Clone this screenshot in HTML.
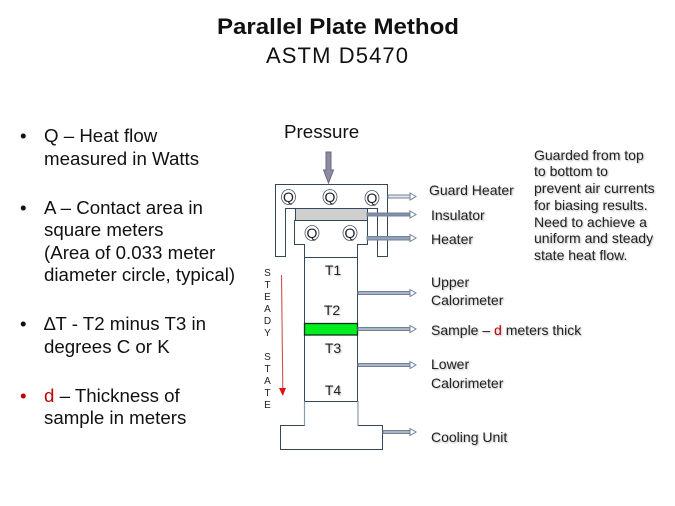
<!DOCTYPE html>
<html><head><meta charset="utf-8"><style>
html,body{margin:0;padding:0;background:#fff}
svg{display:block}
text{font-family:"Liberation Sans",sans-serif;fill:#111}
.b{font-size:18.7px}
.l{font-size:14px;fill:#222;filter:drop-shadow(1px 1px .8px rgba(0,0,0,.28))}
.n{font-size:14px;fill:#222;filter:drop-shadow(1px 1px .8px rgba(0,0,0,.28))}
.q{font-size:14px;fill:#222}
.t{font-size:14px;fill:#222;filter:drop-shadow(1px 1px .8px rgba(0,0,0,.25))}
.s{font-size:10px;fill:#222}
</style></head><body>
<svg width="675" height="506" viewBox="0 0 675 506" xmlns="http://www.w3.org/2000/svg">
<rect width="675" height="506" fill="#fff"/>
<text x="338" y="34" text-anchor="middle" font-size="22" font-weight="bold" textLength="242" lengthAdjust="spacingAndGlyphs">Parallel Plate Method</text>
<text x="337" y="63" text-anchor="middle" font-size="22" textLength="142" lengthAdjust="spacing">ASTM D5470</text>

<text class="b" x="20" y="142">•</text>
<text class="b" x="44" y="142">Q – Heat flow</text>
<text class="b" x="44" y="165">measured in Watts</text>
<text class="b" x="20" y="214">•</text>
<text class="b" x="44" y="214">A – Contact area in</text>
<text class="b" x="44" y="236">square meters</text>
<text class="b" x="44" y="259">(Area of 0.033 meter</text>
<text class="b" x="44" y="281">diameter circle, typical)</text>
<text class="b" x="20" y="330">•</text>
<text class="b" x="44" y="330">∆T - T2 minus T3 in</text>
<text class="b" x="44" y="353">degrees C or K</text>
<text class="b" x="20" y="402" style="fill:#c00000">•</text>
<text class="b" x="44" y="402"><tspan style="fill:#c00000">d</tspan> – Thickness of</text>
<text class="b" x="44" y="424">sample in meters</text>

<text x="284" y="138" font-size="18.800">Pressure</text>
<path d="M326 152h5v18h2.500l-5 13-5-13h2.500z" fill="#8d8b9f" stroke="#6a6880" stroke-width="1"/>

<g fill="#fff" stroke="#33475b" stroke-width="1">
<path d="M275.500 184.500H387.500V256.500H377.500V208.500H285.500V256.500H275.500Z"/>
<rect x="295.500" y="208.500" width="72" height="12" fill="#cfcfcf"/>
<path d="M294.500 220.500H367.500V244.500H357.500V257.500H304.500V244.500H294.500Z"/>
<path d="M304.500 257.500H357.500V401.500H304.500Z"/>
<path d="M304.500 401.500H358V425.500H382.500V449.500H280.500V425.500H304.500Z"/>
</g>
<path d="M304.500 401.500V425.500M358 401.500V425.500" stroke="#8a9bb0" stroke-width="1.200" fill="none"/>
<rect x="304.500" y="323.500" width="53" height="11.500" fill="#00ee20" stroke="#10301a" stroke-width="1.300"/>

<g fill="#fff" stroke="#44556a" stroke-width=".8">
<ellipse cx="288.500" cy="197" rx="7" ry="7.500"/>
<ellipse cx="330" cy="197" rx="7" ry="7.500"/>
<ellipse cx="372" cy="198" rx="7" ry="7.500"/>
<ellipse cx="312" cy="233" rx="7" ry="7.500"/>
<ellipse cx="350" cy="233" rx="7" ry="7.500"/>
</g>
<text class="q" x="288.500" y="202" text-anchor="middle">Q</text>
<text class="q" x="330" y="202" text-anchor="middle">Q</text>
<text class="q" x="372" y="203" text-anchor="middle">Q</text>
<text class="q" x="312" y="238" text-anchor="middle">Q</text>
<text class="q" x="350" y="238" text-anchor="middle">Q</text>

<g stroke="#6f8099" stroke-width="1">
<path d="M388 195h22v3h-22z" fill="#e4e8ee"/>
<path d="M367 213h43v3h-43z" fill="#8090a8"/>
<path d="M367 236.500h43v3.500h-43z" fill="#95a3b8"/>
<path d="M358 291.500h52v3h-52z" fill="#a9b5c6"/>
<path d="M358 327.500h52v3h-52z" fill="#a9b5c6"/>
<path d="M358 363.500h52v3h-52z" fill="#a9b5c6"/>
<path d="M383 430.500h27v3h-27z" fill="#a9b5c6"/>
<g fill="#fff">
<path d="M410 193l6 3.500-6 3.500z"/>
<path d="M410 211l6 3.500-6 3.500z"/>
<path d="M410 234.500l6 3.500-6 3.500z"/>
<path d="M410 289.500l6 3.500-6 3.500z"/>
<path d="M410 325.500l6 3.500-6 3.500z"/>
<path d="M410 361.500l6 3.500-6 3.500z"/>
<path d="M410 428.500l6 3.500-6 3.500z"/>
</g>
</g>

<path d="M281.500 275L282.800 388" stroke="#d05050" stroke-width="1.100" fill="none"/>
<path d="M279 388H286L282.800 396Z" fill="#e01010"/>

<text class="s" x="267.500" y="276" text-anchor="middle">S</text>
<text class="s" x="267.500" y="288" text-anchor="middle">T</text>
<text class="s" x="267.500" y="300" text-anchor="middle">E</text>
<text class="s" x="267.500" y="312" text-anchor="middle">A</text>
<text class="s" x="267.500" y="324" text-anchor="middle">D</text>
<text class="s" x="267.500" y="336" text-anchor="middle">Y</text>
<text class="s" x="267.500" y="360" text-anchor="middle">S</text>
<text class="s" x="267.500" y="372" text-anchor="middle">T</text>
<text class="s" x="267.500" y="384" text-anchor="middle">A</text>
<text class="s" x="267.500" y="396" text-anchor="middle">T</text>
<text class="s" x="267.500" y="408" text-anchor="middle">E</text>

<text class="t" x="333" y="275" text-anchor="middle">T1</text>
<text class="t" x="332" y="315" text-anchor="middle">T2</text>
<text class="t" x="333" y="353" text-anchor="middle">T3</text>
<text class="t" x="333" y="395" text-anchor="middle">T4</text>

<text class="l" x="429" y="195">Guard Heater</text>
<text class="l" x="431" y="220">Insulator</text>
<text class="l" x="431" y="244">Heater</text>
<text class="l" x="431" y="287">Upper</text>
<text class="l" x="431" y="305">Calorimeter</text>
<text class="l" x="431" y="335">Sample – <tspan style="fill:#c00000">d</tspan> meters thick</text>
<text class="l" x="431" y="369">Lower</text>
<text class="l" x="431" y="388">Calorimeter</text>
<text class="l" x="431" y="442">Cooling Unit</text>

<text class="n" x="534" y="160">Guarded from top</text>
<text class="n" x="534" y="176">to bottom to</text>
<text class="n" x="534" y="193">prevent air currents</text>
<text class="n" x="534" y="210">for biasing results.</text>
<text class="n" x="534" y="227">Need to achieve a</text>
<text class="n" x="534" y="243">uniform and steady</text>
<text class="n" x="534" y="260">state heat flow.</text>
</svg>
</body></html>
